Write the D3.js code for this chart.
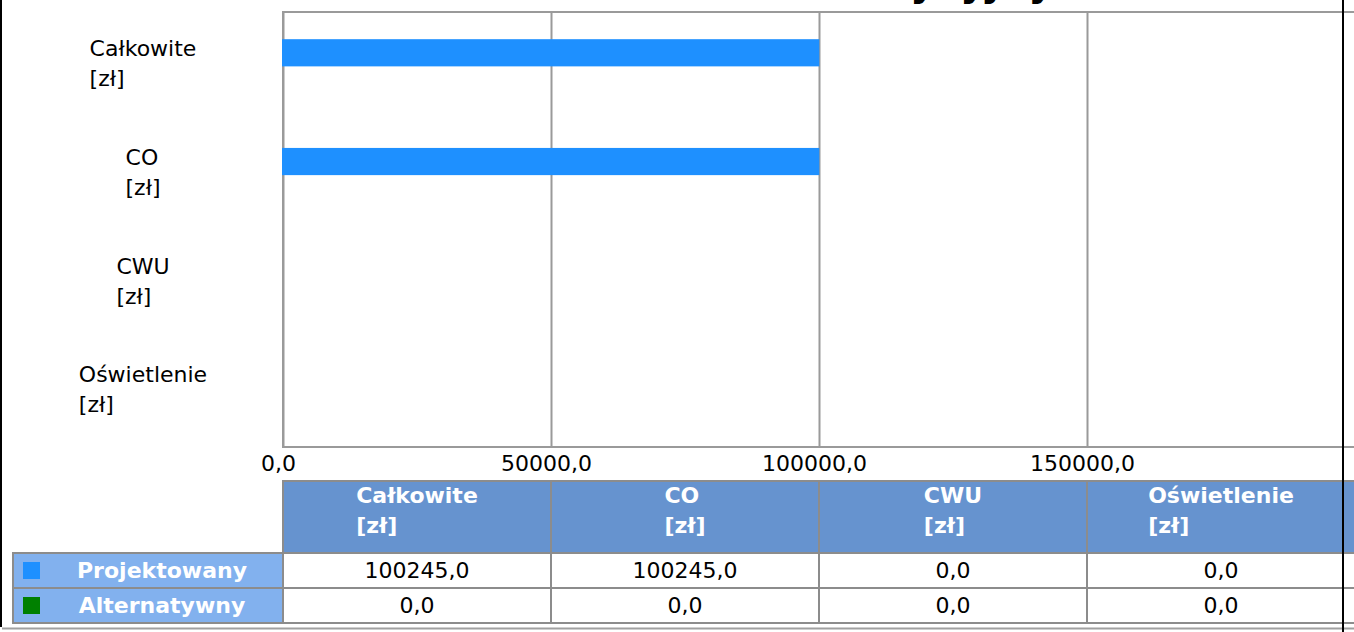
<!DOCTYPE html>
<html>
<head>
<meta charset="utf-8">
<script src="https://cdn.jsdelivr.net/npm/d3@7"></script>
<style>
	html, body { margin: 0; padding: 0; background: #fff; overflow: hidden; }
	svg { display: block; font-family: "DejaVu Sans", sans-serif; }
</style>
</head>
<body>
<div id="chart"></div>
<script>
const title = "Koszt inwestycyjny";
const categories = ["Całkowite", "CO", "CWU", "Oświetlenie"];
const unit = "[zł]";
const seriesNames = ["Projektowany", "Alternatywny"];
const projektowany = [100245.0, 100245.0, 0.0, 0.0];
const alternatywny = [0.0, 0.0, 0.0, 0.0];
const seriesColors = ["#1e90ff", "#008000"];
const xTicks = [0, 50000, 100000, 150000];
const xMax = 200000;

const width = 1354;
const height = 632;
const plot = { left: 283, top: 12, right: 1355, bottom: 447 };
const table = { left: 13, header: 481, rowH: 35, headerH: 72 };

const fmt = (v) => d3.format(".1f")(v).replace(".", ",");
const seriesValues = [projektowany, alternatywny];

const svg = d3.select("#chart")
	.append("svg")
	.attr("width", width)
	.attr("height", height);

// title sits above the visible area, only its descenders peek in
svg.append("text")
	.attr("x", 623)
	.attr("y", -5)
	.attr("font-size", 40)
	.attr("font-weight", "bold")
	.attr("fill", "#000")
	.text(title);

const xScale = d3.scaleLinear().domain([0, xMax]).range([plot.left, plot.right]);
const yScale = d3.scaleBand().domain(categories).range([plot.top, plot.bottom]);
const ySub = d3.scaleBand().domain(seriesNames).range([0, yScale.bandwidth()]).paddingOuter(1);

// grid lines
svg.append("g")
	.attr("class", "grid")
	.attr("transform", `translate(0,${plot.bottom})`)
	.call(d3.axisBottom(xScale).tickValues(xTicks).tickSize(-(plot.bottom - plot.top)).tickFormat(""))
	.call((g) => g.select(".domain").remove())
	.call((g) => g.selectAll("line").attr("stroke", "#9a9a9a").attr("stroke-width", 2));

// plot frame
svg.append("path")
	.attr("d", `M${plot.right},${plot.top}H${plot.left}V${plot.bottom}H${plot.right}`)
	.attr("fill", "none")
	.attr("stroke", "#9a9a9a")
	.attr("stroke-width", 2);

// bars
const barData = [];
seriesNames.forEach((s, i) => {
	categories.forEach((c, j) => barData.push({ series: s, cat: c, value: seriesValues[i][j], color: seriesColors[i] }));
});
svg.append("g")
	.selectAll("rect")
	.data(barData.filter((d) => d.value > 0))
	.join("rect")
	.attr("x", xScale(0) - 1)
	.attr("y", (d) => yScale(d.cat) + ySub(d.series))
	.attr("width", (d) => xScale(d.value) - xScale(0))
	.attr("height", ySub.bandwidth())
	.attr("fill", (d) => d.color);

// category labels
const catG = svg.append("g").attr("font-size", 22).attr("fill", "#000");
categories.forEach((c) => {
	const cy = yScale(c) + yScale.bandwidth() / 2;
	const t = catG.append("text").attr("y", cy - 18).attr("dy", "0.35em").text(c);
	const t2 = catG.append("text").attr("y", cy + 12).attr("dy", "0.35em").text(unit);
	const w = Math.max(t.node().getComputedTextLength(), t2.node().getComputedTextLength());
	t.attr("x", 143 - w / 2);
	t2.attr("x", 143 - w / 2);
});

// x axis labels
svg.append("g")
	.attr("transform", `translate(-5,${plot.bottom})`)
	.call(d3.axisBottom(xScale).tickValues(xTicks).tickSize(0).tickPadding(8).tickFormat(fmt))
	.call((g) => g.select(".domain").remove())
	.call((g) => g.selectAll("text").attr("font-size", 22).attr("font-family", "DejaVu Sans").attr("fill", "#000"));

// data table
const colX = (c) => xScale(xTicks[categories.indexOf(c)]);
const colW = xScale(50000) - xScale(0);
const tbl = svg.append("g");
const border = "#8c8c8c";

tbl.selectAll("rect.head")
	.data(categories)
	.join("rect")
	.attr("class", "head")
	.attr("x", colX)
	.attr("y", table.header)
	.attr("width", colW)
	.attr("height", table.headerH)
	.attr("fill", "#6693cf")
	.attr("stroke", border)
	.attr("stroke-width", 2);

categories.forEach((c) => {
	const cx = colX(c) + colW / 2;
	const t1 = tbl.append("text").attr("y", table.header + 14).attr("dy", "0.35em")
		.attr("font-size", 22).attr("font-weight", "bold").attr("fill", "#fff").text(c);
	const t2 = tbl.append("text").attr("y", table.header + 44).attr("dy", "0.35em")
		.attr("font-size", 22).attr("font-weight", "bold").attr("fill", "#fff").text(unit);
	const w = Math.max(t1.node().getComputedTextLength(), t2.node().getComputedTextLength());
	t1.attr("x", cx - w / 2);
	t2.attr("x", cx - w / 2);
});

seriesNames.forEach((s, i) => {
	const ry = table.header + table.headerH + i * table.rowH;
	tbl.append("rect")
		.attr("x", table.left).attr("y", ry)
		.attr("width", plot.left - table.left).attr("height", table.rowH)
		.attr("fill", "#82b1ee").attr("stroke", border).attr("stroke-width", 2);
	tbl.append("rect")
		.attr("x", table.left + 10).attr("y", ry + 9)
		.attr("width", 17).attr("height", 17)
		.attr("fill", seriesColors[i]);
	tbl.append("text")
		.attr("x", (table.left + 28 + plot.left) / 2).attr("y", ry + table.rowH / 2).attr("dy", "0.35em")
		.attr("text-anchor", "middle").attr("font-size", 22).attr("font-weight", "bold").attr("fill", "#fff")
		.text(s);
	categories.forEach((c, j) => {
		tbl.append("rect")
			.attr("x", colX(c)).attr("y", ry)
			.attr("width", colW).attr("height", table.rowH)
			.attr("fill", "#fff").attr("stroke", border).attr("stroke-width", 2);
		tbl.append("text")
			.attr("x", colX(c) + colW / 2).attr("y", ry + table.rowH / 2).attr("dy", "0.35em")
			.attr("text-anchor", "middle").attr("font-size", 22).attr("fill", "#000")
			.text(fmt(seriesValues[i][j]));
	});
});

// window frame
svg.append("line").attr("x1", 1).attr("x2", 1).attr("y1", 0).attr("y2", 627)
	.attr("stroke", "#000").attr("stroke-width", 2);
svg.append("line").attr("x1", 2).attr("x2", width).attr("y1", 628.5).attr("y2", 628.5)
	.attr("stroke", "#a0a0a0").attr("stroke-width", 2);
svg.append("line").attr("x1", 1343).attr("x2", 1343).attr("y1", 0).attr("y2", height)
	.attr("stroke", "#000").attr("stroke-width", 2);
</script>
</body>
</html>
